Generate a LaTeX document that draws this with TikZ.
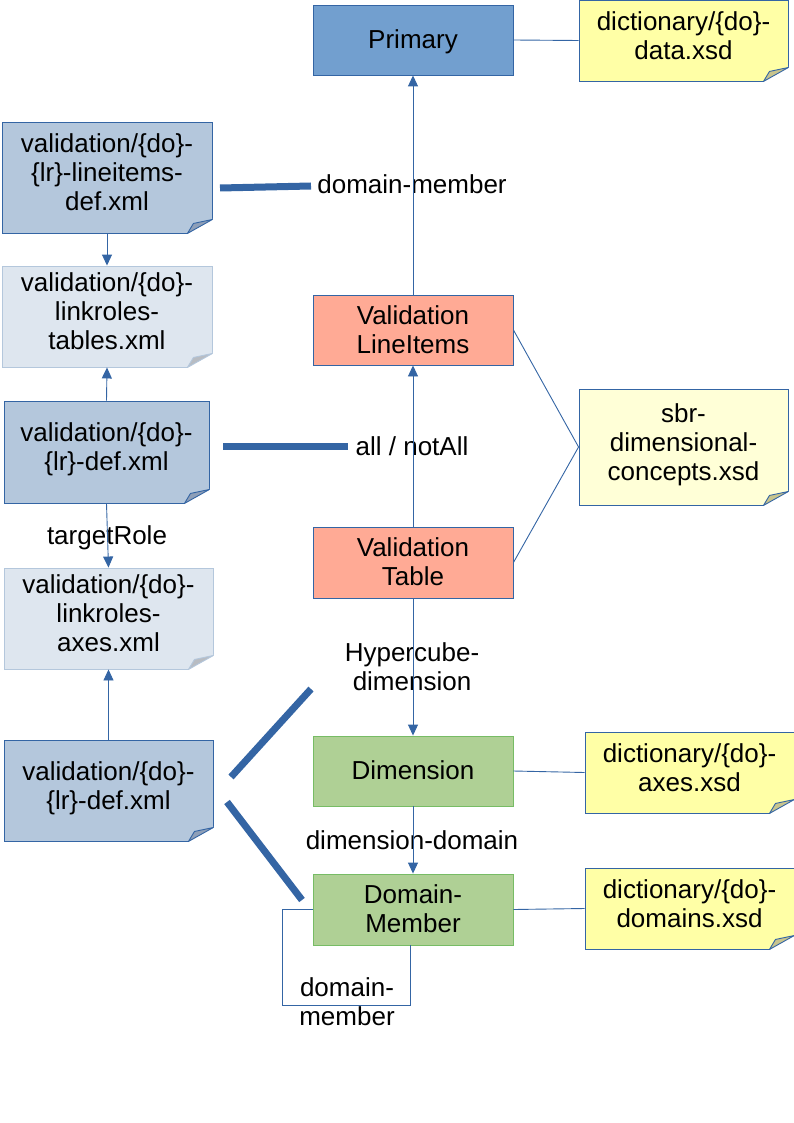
\documentclass[tikz,border=0pt]{standalone}
\usepackage{fontspec}
\setmainfont{Liberation Sans}
\usetikzlibrary{arrows.meta,calc}
\definecolor{bdr}{HTML}{3465A4}
\definecolor{primfill}{HTML}{729FCF}
\definecolor{filefill}{HTML}{B4C7DC}
\definecolor{lightfill}{HTML}{DEE6EF}
\definecolor{salmon}{HTML}{FFAA95}
\definecolor{grfill}{HTML}{AFD095}
\definecolor{grbdr}{HTML}{77BC65}
\definecolor{yel}{HTML}{FFFFA6}
\definecolor{lyel}{HTML}{FFFFD7}
\definecolor{foldblue}{HTML}{8E9FB8}
\definecolor{foldgray}{HTML}{B8BCC2}
\definecolor{foldyel}{HTML}{C8C48E}
\newcommand\nt[1]{\raisebox{0pt}[\height][\dimexpr\depth+3pt\relax]{\begin{tabular}{@{}c@{}}#1\end{tabular}}}
\newcommand\bx[1]{\raisebox{0pt}[\dimexpr\height+6pt\relax][\depth]{\begin{tabular}{@{}c@{}}#1\end{tabular}}}
\newcommand\fold[3]{%
  \fill[white] ($(#1.south east)+(1,-15)$) -- ($(#1.south east)+(1,1)$) -- ($(#1.south east)+(-26,1)$) -- cycle;
  \filldraw[fill=#2,draw=#3,line width=0.9pt,line join=round] ($(#1.south east)+(0,-14)$) -- ($(#1.south east)+(-25,0)$) -- ($(#1.south east)+(-19,-10)$) -- cycle;}
\tikzset{
  txt/.style={font=\fontsize{26}{29}\selectfont, text=black, inner sep=0pt},
  box/.style={txt, rectangle, draw=bdr, line width=0.9pt, minimum width=200pt, minimum height=70pt},
  notebox/.style={txt, rectangle, line width=0.9pt, minimum width=209pt},
  thin/.style={draw=bdr, line width=0.9pt},
  arr/.style={thin, -{Triangle[width=10pt,length=11pt]}},
  thick/.style={draw=bdr, line width=7pt},
}
\begin{document}
\begin{tikzpicture}[x=1pt,y=-1pt]
\useasboundingbox (0,0) rectangle (794,1123);
% central boxes
\node[box, fill=primfill] (prim) at (413,40) {\bx{Primary}};
\node[box, fill=salmon] (li) at (413,330) {\bx{Validation\\LineItems}};
\node[box, fill=salmon, minimum height=71pt] (tbl) at (413,562.5) {\bx{Validation\\Table}};
\node[box, fill=grfill, draw=grbdr] (dim) at (413,771) {\bx{Dimension}};
\node[box, fill=grfill, draw=grbdr, minimum height=71pt] (dm) at (413,909.5) {\bx{Domain-\\Member}};
% right notes
\node[notebox, fill=yel, draw=bdr, minimum height=81pt] (ndata) at (683.5,40.5) {\nt{dictionary/\{do\}-\\data.xsd}};
\node[notebox, fill=lyel, draw=bdr, minimum height=116pt] (nsbr) at (683.5,447) {\nt{sbr-\\dimensional-\\concepts.xsd}};
\node[notebox, fill=yel, draw=bdr, minimum height=81pt] (naxes) at (689.5,772.5) {\nt{dictionary/\{do\}-\\axes.xsd}};
\node[notebox, fill=yel, draw=bdr, minimum height=81pt] (ndom) at (689.5,908.5) {\nt{dictionary/\{do\}-\\domains.xsd}};
% left notes
\node[notebox, fill=filefill, draw=bdr, minimum width=210pt, minimum height=111pt] (lidef) at (107,177.5) {\nt{validation/\{do\}-\\\{lr\}-lineitems-\\def.xml}};
\node[notebox, fill=lightfill, draw=filefill, minimum width=210pt, minimum height=101pt] (ltab) at (107,316.5) {\nt{validation/\{do\}-\\linkroles-\\tables.xml}};
\node[notebox, fill=filefill, draw=bdr, minimum width=205pt, minimum height=102pt] (d1) at (106.5,452) {\nt{validation/\{do\}-\\\{lr\}-def.xml}};
\node[notebox, fill=lightfill, draw=filefill, minimum height=101pt] (lax) at (108.5,618.5) {\nt{validation/\{do\}-\\linkroles-\\axes.xml}};
\node[notebox, fill=filefill, draw=bdr, minimum height=101pt] (d2) at (108.5,790.5) {\nt{validation/\{do\}-\\\{lr\}-def.xml}};
% folded corners
\fold{ndata}{foldyel}{bdr}
\fold{nsbr}{foldyel}{bdr}
\fold{naxes}{foldyel}{bdr}
\fold{ndom}{foldyel}{bdr}
\fold{lidef}{foldblue}{bdr}
\fold{ltab}{foldgray}{filefill}
\fold{d1}{foldblue}{bdr}
\fold{lax}{foldgray}{filefill}
\fold{d2}{foldblue}{bdr}
% labels
\node[txt] (lbldm) at (412,184) {domain-member};
\node[txt] (lblall) at (412,446) {all / notAll};
\node[txt] (lbltr) at (107,537.5) {targetRole};
\node[txt] (lblhd) at (412,667) {\bx{Hypercube-\\dimension}};
\node[txt] (lbldd) at (412,840) {dimension-domain};
\node[txt] (lblloop) at (347,1002) {\bx{domain-\\member}};
% connectors
\draw[arr] (li.north) -- (prim.south);
\draw[arr] (tbl.north) -- (li.south);
\draw[arr] (tbl.south) -- (dim.north);
\draw[arr] (dim.south) -- (dm.north);
\draw[arr] (lidef.south) -- (ltab.north);
\draw[arr] (d1.north) -- (ltab.south);
\draw[arr] (d1.south) -- (lax.north);
\draw[arr] (d2.north) -- (lax.south);
\draw[thin] (prim.east) -- (ndata.west);
\draw[thin] (li.east) -- (nsbr.west);
\draw[thin] (tbl.east) -- (nsbr.west);
\draw[thin] (dim.east) -- (naxes.west);
\draw[thin] (dm.east) -- (ndom.west);
\coordinate (lp) at (282,1005);
\draw[thin] (dm.west) -| (lp) -| ($(dm.south)+(-3,0)$);
% thick association lines
\coordinate (t1a) at (220,188);
\coordinate (t1b) at (311,186);
\coordinate (t2a) at (223,446.5);
\coordinate (t2b) at (348,446.5);
\coordinate (t3a) at (231,777);
\coordinate (t3b) at (311,689);
\coordinate (t4a) at (227,802);
\coordinate (t4b) at (302,900);
\draw[thick] (t1a) -- (t1b);
\draw[thick] (t2a) -- (t2b);
\draw[thick] (t3a) -- (t3b);
\draw[thick] (t4a) -- (t4b);
\end{tikzpicture}
\end{document}
